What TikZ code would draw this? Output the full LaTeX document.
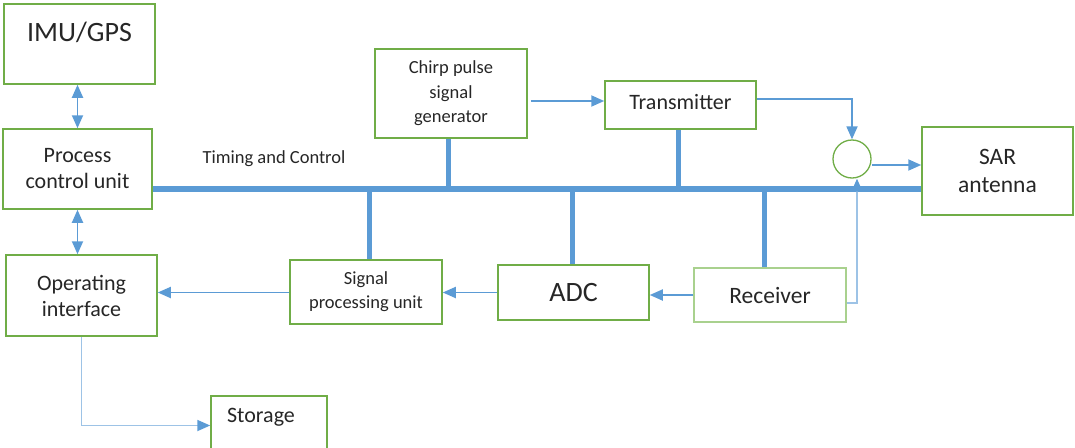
\documentclass[tikz,border=0pt]{standalone}
\usepackage{fontspec}
\setmainfont{Carlito}
\usetikzlibrary{arrows.meta}
\definecolor{boxgreen}{HTML}{70AD47}
\definecolor{palegreen}{HTML}{A9D18E}
\definecolor{linkblue}{HTML}{5B9BD5}
\definecolor{paleblue}{HTML}{9DC3E6}
\definecolor{ink}{HTML}{262626}
\newcommand{\fs}[2]{\fontsize{#1}{#2}\selectfont}
\begin{document}
\begin{tikzpicture}[x=1pt,y=-1pt,
  box/.style={draw=boxgreen, line width=1.5pt, inner sep=0pt, text=ink, align=center},
  palebox/.style={box, draw=palegreen},
  txt/.style={inner sep=0pt, text=ink, align=center},
  bus/.style={draw=linkblue, line width=6pt},
  stub/.style={draw=linkblue, line width=5pt},
  link/.style={draw=linkblue, line width=1.8pt, -{Triangle[length=13pt,width=11pt]}},
  palelink/.style={link, draw=paleblue, -{Triangle[length=13pt,width=11pt,color=linkblue]}},
  duplex/.style={link, {Triangle[length=13pt,width=11pt]}-{Triangle[length=13pt,width=11pt]}}
]
\useasboundingbox (0,0) rectangle (1075,447);
\clip (0,0) rectangle (1075,447);

% blocks
\node[box, minimum width=151pt, minimum height=80pt] (imu) at (79.5,44) {};
\node[txt, font=\fs{28}{32}] (imutext) at (79.5,32) {IMU/GPS};
\node[box, minimum width=149pt, minimum height=80pt, font=\fs{22}{26}] (pcu) at (77.5,169) {Process\\control unit};
\node[box, minimum width=151pt, minimum height=81pt, font=\fs{22}{26}] (oi) at (81.5,295.5) {Operating\\interface};
\node[box, minimum width=152pt, minimum height=64pt, font=\fs{18.5}{24}] (spu) at (366,292) {Signal\\processing unit};
\node[box, minimum width=151pt, minimum height=55pt, font=\fs{28}{32}] (adc) at (573.5,292.5) {ADC};
\node[palebox, minimum width=152pt, minimum height=54pt, font=\fs{23.5}{28}] (rx) at (770,295) {Receiver};
\node[box, minimum width=152pt, minimum height=89pt, font=\fs{18.5}{24.5}] (chirp) at (451,93.5) {Chirp pulse\\signal\\generator};
\node[box, minimum width=151pt, minimum height=48pt] (tx) at (680.5,105) {};
\node[txt, font=\fs{22}{26}] (txtext) at (680.5,102) {Transmitter};
\node[box, minimum width=151pt, minimum height=88pt, font=\fs{23.5}{28}] (sar) at (997.5,171) {SAR\\antenna};
\node[box, minimum width=116pt, minimum height=59pt] (st) at (269,425.5) {};
\node[txt, font=\fs{22}{26}] (sttext) at (261,417) {Storage};
\node[draw=boxgreen, line width=1.3pt, circle, minimum size=38pt, inner sep=0pt] (circ) at (852,159) {};

\node[txt, font=\fs{18.5}{22}] (timing) at (274,159) {Timing and Control};

% timing and control bus
\coordinate (busy) at (0,189);
\draw[bus] (pcu.east |- busy) -- (sar.west |- busy);
\draw[stub] ([xshift=-3pt]chirp.south) -- ([xshift=-3pt]chirp.south |- busy);
\draw[stub] ([xshift=-2.5pt]tx.south) -- ([xshift=-2.5pt]tx.south |- busy);
\draw[stub] ([xshift=3pt]spu.north) -- ([xshift=3pt]spu.north |- busy);
\draw[stub] ([xshift=-1.5pt]adc.north) -- ([xshift=-1.5pt]adc.north |- busy);
\draw[stub] ([xshift=-6pt]rx.north) -- ([xshift=-6pt]rx.north |- busy);

% signal flow
\draw[duplex] (imu.south -| pcu.north) -- (pcu.north);
\draw[duplex] (pcu.south) -- (pcu.south |- oi.north);
\draw[link] ([xshift=3pt,yshift=4pt]chirp.east |- tx.west) -- ([yshift=4pt]tx.west);
\draw[link] ([yshift=6pt]tx.east) -| (circ.north);
\draw[link] ([yshift=-6pt]circ.east) -- ([yshift=-6pt]circ.east -| sar.west);
\draw[palelink] ([yshift=-8pt]rx.east) -| ([xshift=5pt]circ.south);
\draw[link] (rx.west) -- (rx.west -| adc.east);
\draw[link] (adc.west) -- (adc.west -| spu.east);
\draw[link] (spu.west |- adc.west) -- (adc.west -| oi.east);
\draw[palelink] (oi.south) |- (st.west);
\end{tikzpicture}
\end{document}
